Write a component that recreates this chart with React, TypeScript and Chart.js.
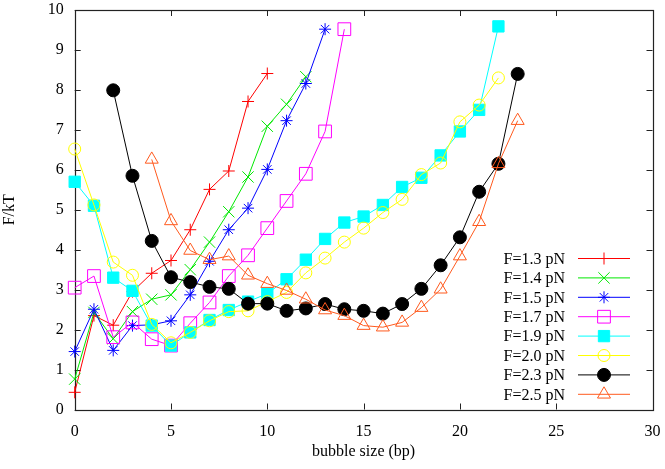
import React, { useEffect, useRef } from 'react';
import { Chart, registerables } from 'chart.js';
import { drawPoint } from 'chart.js/helpers';

Chart.register(...registerables);

const seriesLabels = ['F=1.3 pN', 'F=1.4 pN', 'F=1.5 pN', 'F=1.7 pN', 'F=1.9 pN', 'F=2.0 pN', 'F=2.3 pN', 'F=2.5 pN'];
const seriesStart = [0, 0, 0, 0, 0, 0, 2, 4];
const f13 = [0.43, 2.35, 2.11, 2.95, 3.41, 3.73, 4.5, 5.51, 5.97, 7.71, 8.41];
const f14 = [0.76, 2.43, 1.77, 2.45, 2.76, 2.87, 3.5, 4.19, 4.95, 5.82, 7.09, 7.64, 8.33];
const f15 = [1.45, 2.51, 1.48, 2.1, 2.12, 2.22, 2.87, 3.71, 4.5, 5.04, 6.01, 7.23, 8.16, 9.52];
const f17 = [3.05, 3.34, 1.81, 2.18, 1.76, 1.6, 2.16, 2.68, 3.34, 3.86, 4.54, 5.22, 5.9, 6.96, 9.52];
const f19 = [5.7, 5.1, 3.3, 2.97, 2.1, 1.6, 1.93, 2.24, 2.49, 2.7, 2.9, 3.26, 3.75, 4.27, 4.68, 4.83, 5.12, 5.57, 5.8, 6.36, 6.96, 7.5, 9.59];
const f20 = [6.52, 5.12, 3.69, 3.36, 2.13, 1.67, 1.93, 2.22, 2.45, 2.47, 2.7, 2.93, 3.42, 3.79, 4.19, 4.54, 4.93, 5.26, 5.88, 6.17, 7.2, 7.62, 8.3];
const f23 = [7.99, 5.85, 4.22, 3.31, 3.19, 3.07, 3.02, 2.65, 2.65, 2.47, 2.53, 2.64, 2.51, 2.47, 2.4, 2.64, 3.02, 3.61, 4.31, 5.45, 6.15, 8.4];
const f25 = [6.26, 4.72, 3.98, 3.75, 3.84, 3.36, 3.15, 2.98, 2.76, 2.49, 2.35, 2.1, 2.06, 2.18, 2.55, 3.01, 3.84, 4.7, 6.15, 7.23];
const seriesValues = [f13, f14, f15, f17, f19, f20, f23, f25];

const xTicks = [0, 5, 10, 15, 20, 25, 30];
const yTicks = [0, 1, 2, 3, 4, 5, 6, 7, 8, 9, 10];

const colors = ['#ff0000', '#00e800', '#0000ff', '#ff00ff', '#00ffff', '#ffff00', '#000000', '#ff5a1e'];
const styles = ['cross', 'crossRot', 'star', 'rect', 'rect', 'circle', 'circle', 'triangle'];
const radii = [6, 8, 6, 9, 8, 6, 6.5, 7.5];
const filled = [false, false, false, false, true, false, true, false];

const FONT = '"Liberation Serif", "Times New Roman", serif';

const framePlugin = {
  id: 'frame',
  beforeDatasetsDraw(chart: any) {
    const { ctx, chartArea: a, scales } = chart;
    ctx.save();
    ctx.strokeStyle = '#222';
    ctx.lineWidth = 1;
    ctx.beginPath();
    const L = 6;
    xTicks.forEach((t) => {
      const x = Math.round(scales.x.getPixelForValue(t)) + 0.5;
      ctx.moveTo(x, a.bottom);
      ctx.lineTo(x, a.bottom - L);
      ctx.moveTo(x, a.top);
      ctx.lineTo(x, a.top + L);
    });
    yTicks.forEach((t) => {
      const y = Math.round(scales.y.getPixelForValue(t)) + 0.5;
      ctx.moveTo(a.left, y);
      ctx.lineTo(a.left + L, y);
      ctx.moveTo(a.right, y);
      ctx.lineTo(a.right - L, y);
    });
    ctx.stroke();
    ctx.lineWidth = 1.2;
    ctx.strokeRect(Math.round(a.left) + 0.5, Math.round(a.top) + 0.5, Math.round(a.right - a.left), Math.round(a.bottom - a.top));
    ctx.restore();
  },
  afterDraw(chart: any) {
    const { ctx } = chart;
    ctx.save();
    ctx.font = '16px ' + FONT;
    ctx.textAlign = 'right';
    ctx.textBaseline = 'middle';
    seriesLabels.forEach((lab, i) => {
      const y = 258.5 + i * 19.4;
      ctx.fillStyle = '#000';
      ctx.fillText(lab, 565, y + 1);
      ctx.strokeStyle = colors[i];
      ctx.lineWidth = 1;
      ctx.beginPath();
      ctx.moveTo(578, y);
      ctx.lineTo(630, y);
      ctx.stroke();
      ctx.fillStyle = filled[i] ? colors[i] : 'rgba(0,0,0,0)';
      drawPoint(ctx, { pointStyle: styles[i], radius: radii[i], rotation: 0, borderWidth: 1 } as any, 604, y);
    });
    ctx.restore();
  },
};

export default function App() {
  const ref = useRef<HTMLCanvasElement>(null);
  useEffect(() => {
    document.body.style.margin = '0';
    const datasets = seriesValues.map((vals, i) => ({
      label: seriesLabels[i],
      data: vals.map((v, j) => ({ x: seriesStart[i] + j, y: v })),
      borderColor: colors[i],
      backgroundColor: colors[i],
      borderWidth: 1,
      pointStyle: styles[i],
      pointRadius: radii[i],
      pointHoverRadius: radii[i],
      pointBorderColor: colors[i],
      pointBackgroundColor: filled[i] ? colors[i] : 'rgba(0,0,0,0)',
      pointBorderWidth: 1,
      tension: 0,
      fill: false,
      clip: false as any,
      order: 8 - i,
    }));
    const chart = new Chart(ref.current!, {
      type: 'line',
      data: { datasets },
      options: {
        responsive: false,
        animation: false,
        events: [],
        layout: { padding: { left: 0, right: 12.5, top: 6.7, bottom: 0 } },
        plugins: { legend: { display: false }, tooltip: { enabled: false } },
        scales: {
          x: {
            type: 'linear',
            min: 0,
            max: 30,
            afterFit: (s: any) => { s.height = 59.5; s.paddingLeft = 0; s.paddingRight = 0; },
            afterBuildTicks: (s: any) => { s.ticks = xTicks.map((v) => ({ value: v })); },
            grid: { display: false, drawTicks: false, tickLength: 0 },
            border: { display: false },
            ticks: { color: '#000', font: { family: FONT, size: 16 }, padding: 13, maxRotation: 0, autoSkip: false },
            title: { display: true, text: 'bubble size (bp)', color: '#000', font: { family: FONT, size: 16 }, padding: { top: 0, bottom: 7.5 } },
          },
          y: {
            type: 'linear',
            min: 0,
            max: 10,
            afterFit: (s: any) => { s.width = 74.7; s.paddingTop = 0; s.paddingBottom = 0; },
            afterBuildTicks: (s: any) => { s.ticks = yTicks.map((v) => ({ value: v })); },
            grid: { display: false, drawTicks: false, tickLength: 0 },
            border: { display: false },
            ticks: { color: '#000', font: { family: FONT, size: 16 }, padding: 11, autoSkip: false },
            title: { display: true, text: 'F/kT', color: '#000', font: { family: FONT, size: 16 }, padding: { top: 0.5, bottom: 0 } },
          },
        },
      },
      plugins: [framePlugin],
    });
    return () => chart.destroy();
  }, []);
  return (
    <div style={{ width: 665, height: 469 }}>
      <canvas ref={ref} width={665} height={469} style={{ display: 'block' }} />
    </div>
  );
}
